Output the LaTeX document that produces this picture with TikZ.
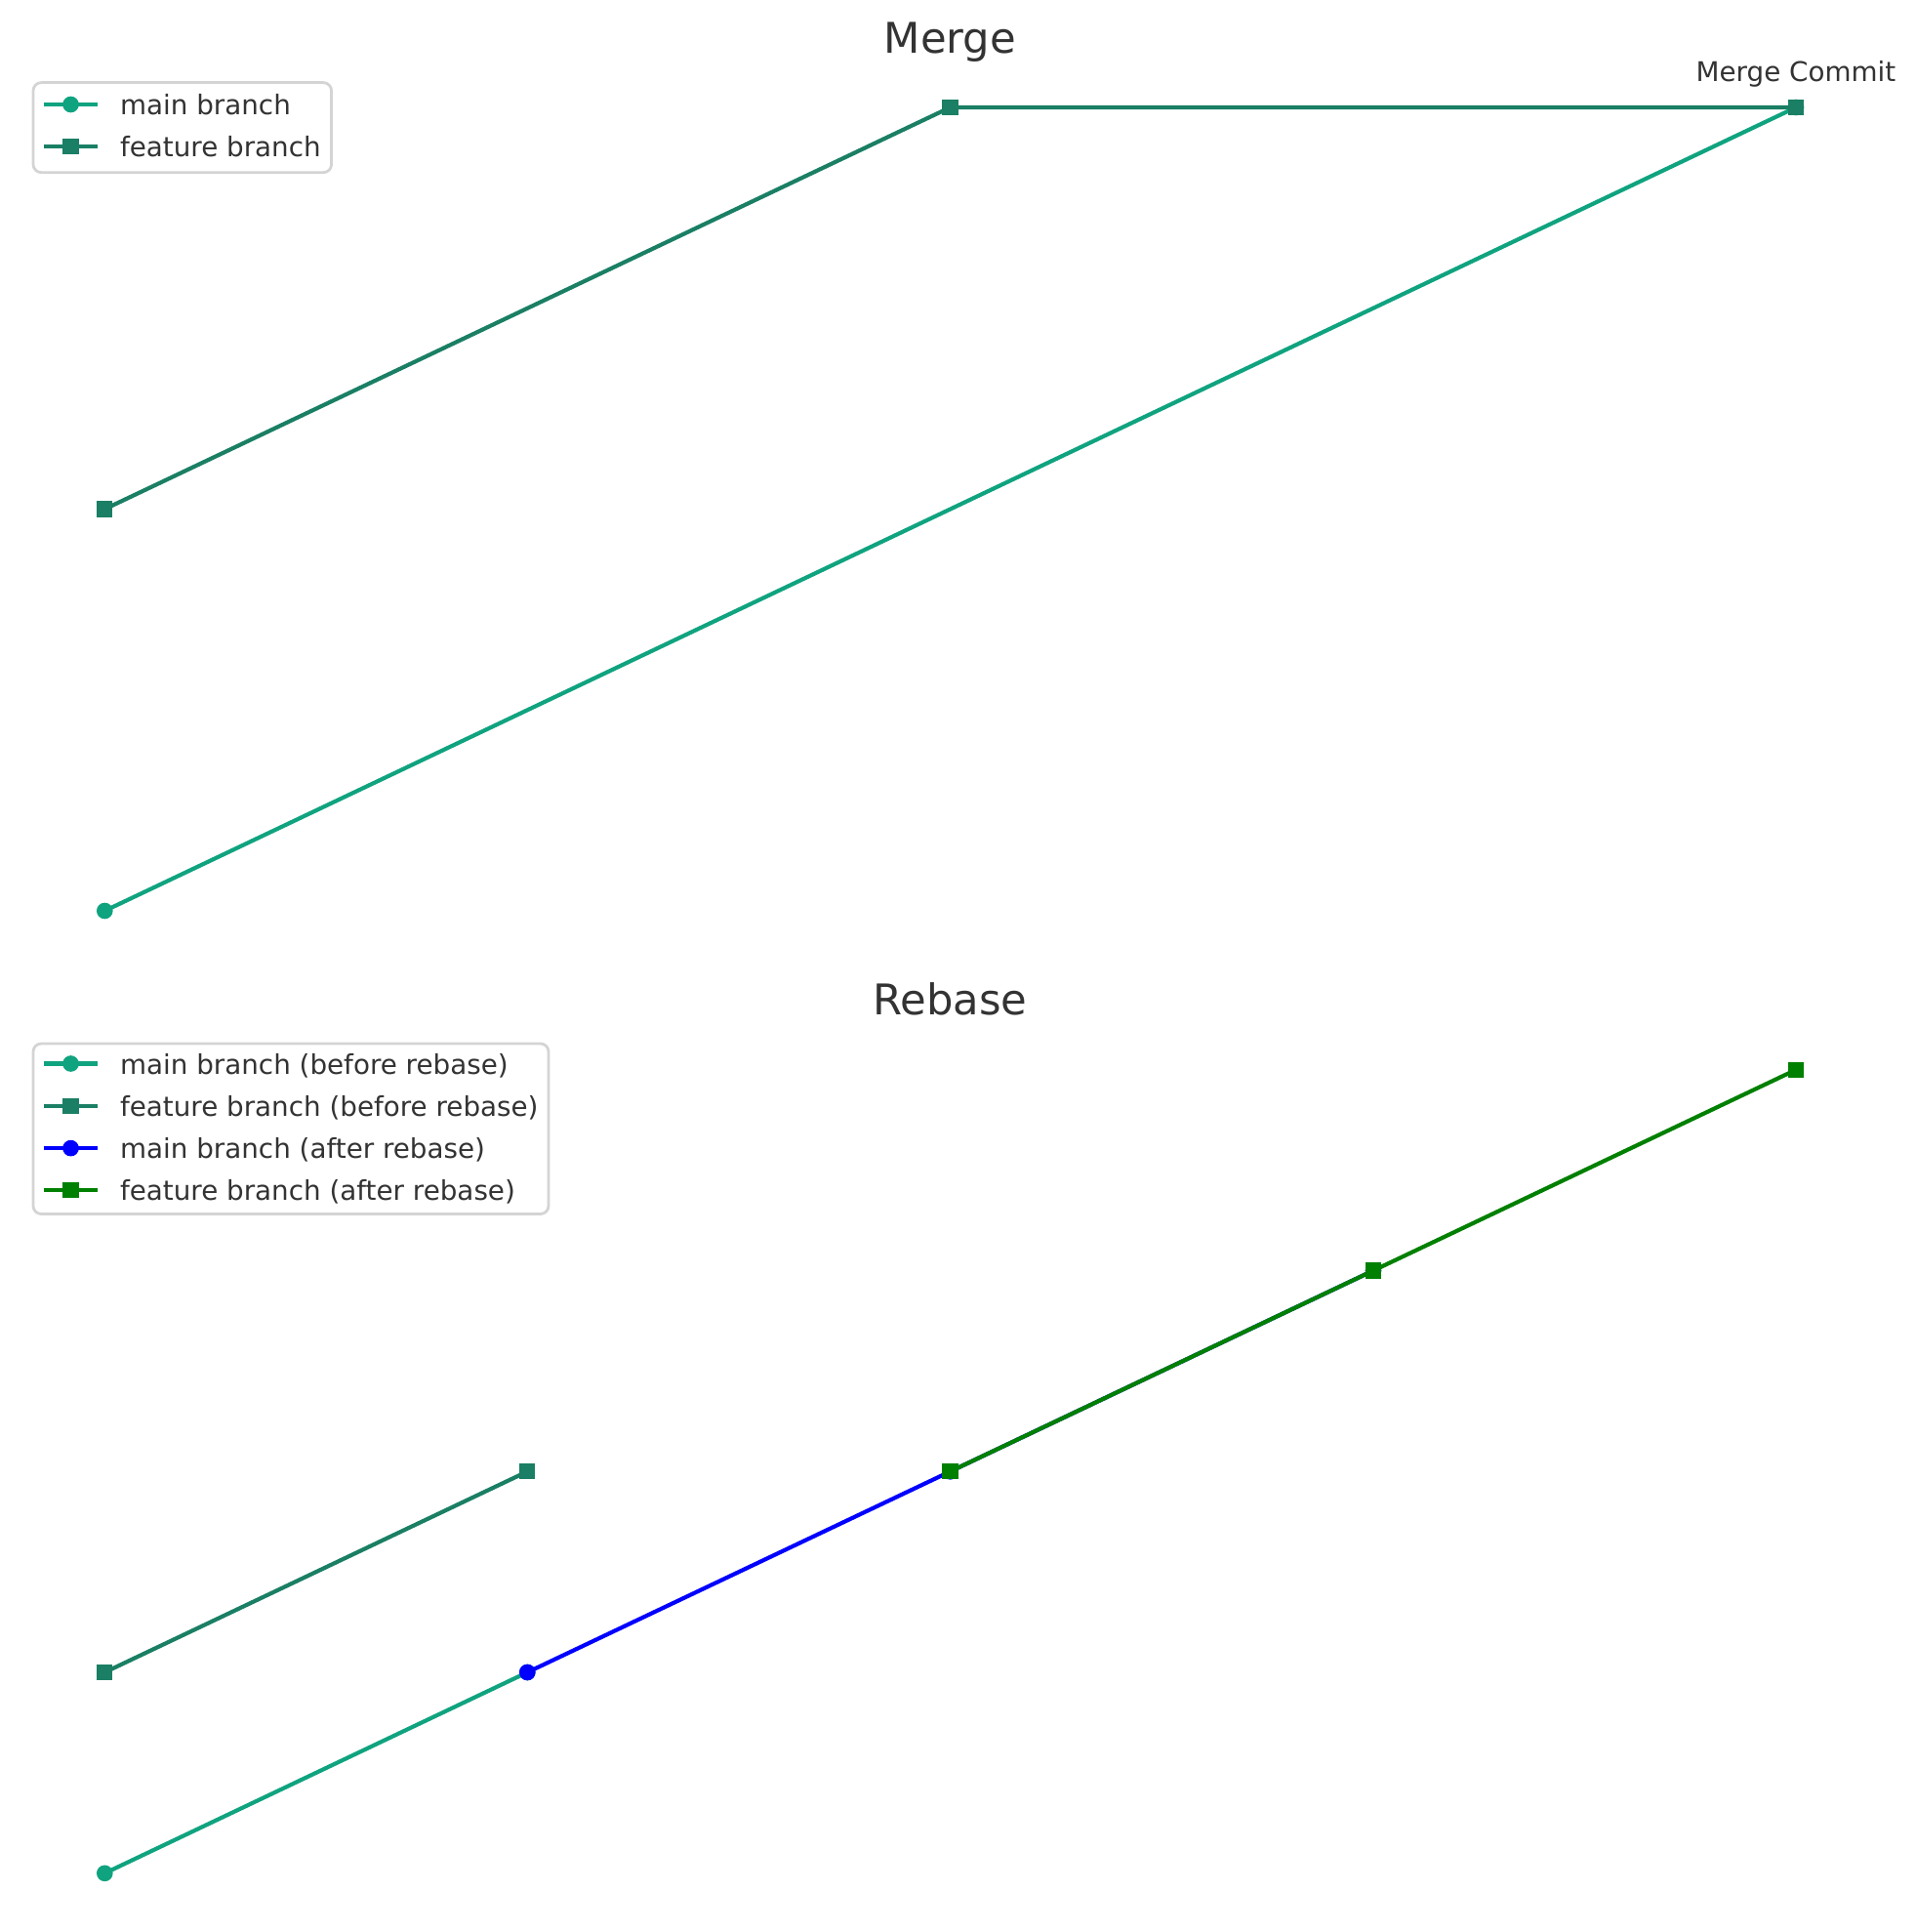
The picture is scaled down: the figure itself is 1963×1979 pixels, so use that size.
\documentclass[tikz,border=0pt]{standalone}
\usepackage{fontspec}
\setmainfont{DejaVu Sans}
\usetikzlibrary{positioning}
\definecolor{mainteal}{HTML}{10A37F}
\definecolor{featteal}{HTML}{1A7F64}
\definecolor{txtgray}{HTML}{333333}
\definecolor{framegray}{HTML}{D4D4D4}

\begin{document}
\begin{tikzpicture}[x=0.36pt, y=-0.36pt,
		every node/.style={font=\fontsize{10pt}{12pt}\selectfont, text=txtgray},
		mainline/.style={line width=1.5pt, color=mainteal},
		featline/.style={line width=1.5pt, color=featteal},
		afterline/.style={line width=1.5pt, color=blue},
		rebaseline/.style={line width=1.5pt, color=green!50!black},
		dot/.style={circle, inner sep=0pt, minimum size=6pt},
		sq/.style={rectangle, inner sep=0pt, minimum size=5.8pt},
		plottitle/.style={font=\fontsize{15.6pt}{18pt}\selectfont, anchor=base},
		legtext/.style={anchor=base west, inner sep=0pt},
		legframe/.style={draw=framegray, line width=1pt, rounded corners=3pt, fill=white}
		]
		\useasboundingbox (0,0) rectangle (1963,1979);
		
		% --- Merge ---
		\node[plottitle] (ttlMerge) at (973.5,55) {Merge};
		\coordinate (M0) at (107.3,933);
		\coordinate (MC) at (1840,110);
		\coordinate (F0) at (107.3,521.5);
		\coordinate (F1) at (973.5,110);
		
		\draw[mainline] (M0) -- (MC);
		\node[dot, fill=mainteal] (m0) at (M0) {};
		\node[dot, fill=mainteal] (mc) at (MC) {};
		\draw[featline] (F0) -- (F1) -- (MC);
		\node[sq, fill=featteal] (f0) at (F0) {};
		\node[sq, fill=featteal] (f1) at (F1) {};
		\node[sq, fill=featteal] (f2) at (MC) {};
		\node[anchor=base] (lblMerge) at (1840,84) {Merge Commit};
		
		% --- Merge legend ---
		\draw[legframe] (34,84.6) rectangle (339.6,176.7);
		\node[dot, fill=mainteal] (lgM) at (72.5,107) {};
		\draw[mainline] ([xshift=-10pt]lgM.center) -- ([xshift=10pt]lgM.center);
		\node[legtext] (lgMtxt) at ([xshift=18pt, yshift=-3.8pt]lgM.center) {main branch};
		\node[sq, fill=featteal] (lgF) at (72.5,150) {};
		\draw[featline] ([xshift=-10pt]lgF.center) -- ([xshift=10pt]lgF.center);
		\node[legtext] (lgFtxt) at ([xshift=18pt, yshift=-3.8pt]lgF.center) {feature branch};
		
		% --- Rebase ---
		\node[plottitle] (ttlRebase) at (973.5,1039) {Rebase};
		\coordinate (R00) at (107.3,1918.8);
		\coordinate (R01) at (107.3,1713);
		\coordinate (R11) at (540.3,1713);
		\coordinate (R12) at (540.3,1507.3);
		\coordinate (R22) at (973.5,1507.3);
		\coordinate (R33) at (1407,1301.5);
		\coordinate (R44) at (1840,1095.8);
		
		% before rebase
		\draw[mainline] (R00) -- (R11);
		\node[dot, fill=mainteal] (b0) at (R00) {};
		\node[dot, fill=mainteal] (b1) at (R11) {};
		\draw[featline] (R01) -- (R12);
		\node[sq, fill=featteal] (c0) at (R01) {};
		\node[sq, fill=featteal] (c1) at (R12) {};
		
		% after rebase
		\draw[afterline] (R11) -- (R22) -- (R33);
		\node[dot, fill=blue] (a1) at (R11) {};
		\node[dot, fill=blue] (a2) at (R22) {};
		\node[dot, fill=blue] (a3) at (R33) {};
		\draw[rebaseline] (R22) -- (R33) -- (R44);
		\node[sq, fill=green!50!black] (r2) at (R22) {};
		\node[sq, fill=green!50!black] (r3) at (R33) {};
		\node[sq, fill=green!50!black] (r4) at (R44) {};
		
		% --- Rebase legend ---
		\draw[legframe] (34,1069) rectangle (562,1243.5);
		\node[dot, fill=mainteal] (lgB1) at (72.5,1089.5) {};
		\draw[mainline] ([xshift=-10pt]lgB1.center) -- ([xshift=10pt]lgB1.center);
		\node[legtext] (lgB1txt) at ([xshift=18pt, yshift=-3.8pt]lgB1.center) {main branch (before rebase)};
		\node[sq, fill=featteal] (lgB2) at (72.5,1132.8) {};
		\draw[featline] ([xshift=-10pt]lgB2.center) -- ([xshift=10pt]lgB2.center);
		\node[legtext] (lgB2txt) at ([xshift=18pt, yshift=-3.8pt]lgB2.center) {feature branch (before rebase)};
		\node[dot, fill=blue] (lgB3) at (72.5,1176.1) {};
		\draw[afterline] ([xshift=-10pt]lgB3.center) -- ([xshift=10pt]lgB3.center);
		\node[legtext] (lgB3txt) at ([xshift=18pt, yshift=-3.8pt]lgB3.center) {main branch (after rebase)};
		\node[sq, fill=green!50!black] (lgB4) at (72.5,1219.4) {};
		\draw[rebaseline] ([xshift=-10pt]lgB4.center) -- ([xshift=10pt]lgB4.center);
		\node[legtext] (lgB4txt) at ([xshift=18pt, yshift=-3.8pt]lgB4.center) {feature branch (after rebase)};
		
	\end{tikzpicture}
\end{document}
